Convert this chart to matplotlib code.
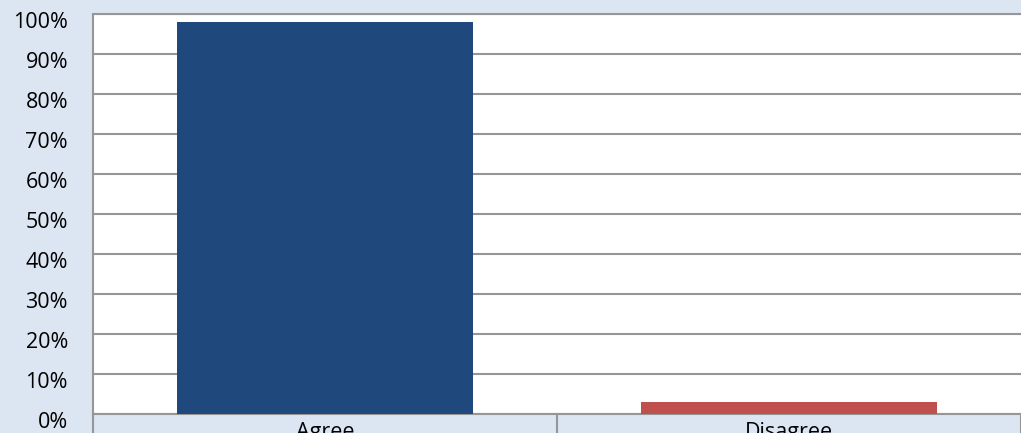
import matplotlib.pyplot as plt
import matplotlib.transforms as mtransforms
import numpy as np

categories = ["Agree", "Disagree"]
values = [98, 3]
colors = ["#1F497D", "#C0504D"]
yticks = [0, 10, 20, 30, 40, 50, 60, 70, 80, 90, 100]

plt.rcParams['font.family'] = ['Open Sans', 'DejaVu Sans']

fig = plt.figure(figsize=(10.21, 4.33), dpi=100, facecolor="#DCE6F2")
W, H = 1021, 433
ax = fig.add_axes([93 / W, (H - 414) / H, (1021 - 93) / W, 400 / H])
ax.set_facecolor("white")

x = np.arange(len(categories))
ax.bar(x, values, width=0.64, color=colors, zorder=3)

ax.set_xlim(-0.5, 1.5)
ax.set_ylim(0, 100)
ax.set_yticks(yticks)
ax.set_yticklabels([f"{v}%" for v in yticks])
ax.yaxis.grid(True, color="#969696", linewidth=1.5, zorder=0)
ax.set_axisbelow(True)

ax.set_xticks(x)
ax.set_xticklabels(categories)
ax.set_xticks([-0.5, 0.5, 1.5], minor=True)
ax.tick_params(axis="x", which="major", length=0, pad=6, labelsize=15.5)
ax.tick_params(axis="x", which="minor", length=30, width=1.5, color="#969696", direction="out")
ax.tick_params(axis="y", length=0, pad=18, labelsize=15.5)

# nudge the y labels down a little like the original
offset = mtransforms.ScaledTranslation(0, -6 / 100, fig.dpi_scale_trans)
for lab in ax.get_yticklabels():
    lab.set_transform(lab.get_transform() + offset)

for side in ["left", "bottom", "top"]:
    ax.spines[side].set_color("#969696")
    ax.spines[side].set_linewidth(1.5)
ax.spines["right"].set_visible(False)

fig.savefig("out.png", dpi=100, facecolor=fig.get_facecolor())
